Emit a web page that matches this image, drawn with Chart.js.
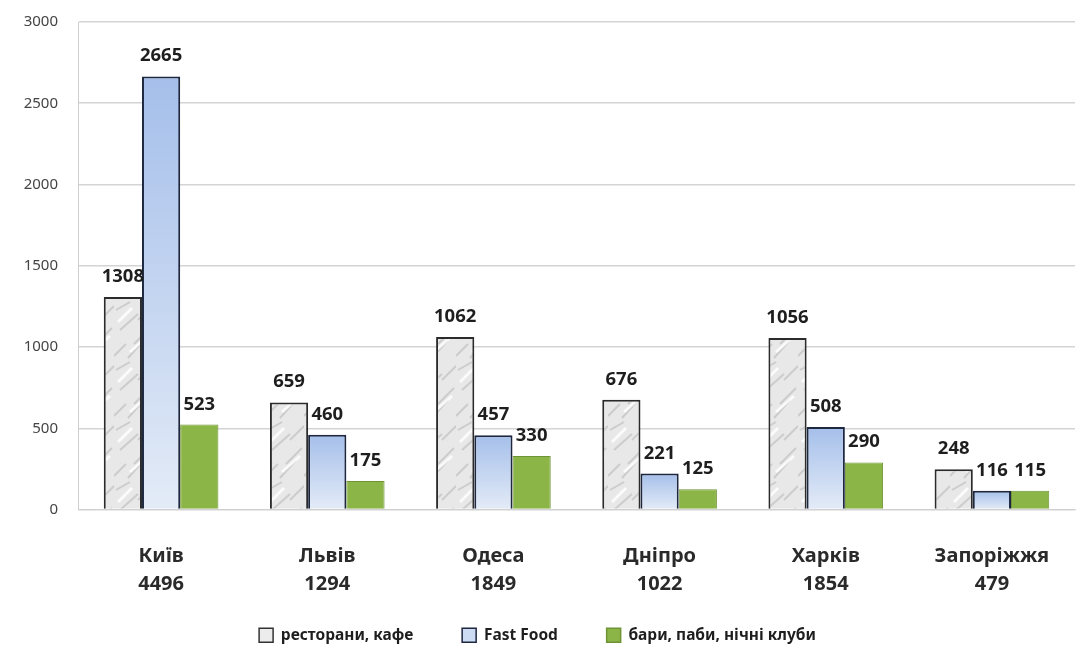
<!DOCTYPE html>
<html>
<head>
<meta charset="utf-8">
<script src="https://cdn.jsdelivr.net/npm/chart.js@4"></script>
<style>
  html, body { margin: 0; padding: 0; background: #fff; }
  #wrap { width: 1083px; height: 653px; }
</style>
</head>
<body>
<div id="wrap"><canvas id="chart" width="1083" height="653"></canvas></div>
<script>
var cities = ['Київ', 'Львів', 'Одеса', 'Дніпро', 'Харків', 'Запоріжжя'];
var totals = ['4496', '1294', '1849', '1022', '1854', '479'];
var restaurants = [1308, 659, 1062, 676, 1056, 248];
var fastFood = [2665, 460, 457, 221, 508, 116];
var bars = [523, 175, 330, 125, 290, 115];
var seriesNames = ['ресторани, кафе', 'Fast Food', 'бари, паби, нічні клуби'];
var yTicks = [0, 500, 1000, 1500, 2000, 2500, 3000];

var labels = [];
for (i = 0; i < cities.length; i++) {
  labels.push([cities[i], totals[i]]);
}

var FONT = '"Noto Sans", "DejaVu Sans", sans-serif';

// marble-like grey texture for the first series
function makeGreyPattern() {
  var p = document.createElement('canvas');
  p.width = 38; p.height = 60;
  var c = p.getContext('2d');
  c.fillStyle = '#e8e8e8';
  c.fillRect(0, 0, 38, 60);
  c.strokeStyle = 'rgba(170,170,170,0.45)';
  c.lineWidth = 2;
  var streaks = [[2, 10, 16, 2], [6, 30, 24, 14], [20, 44, 36, 28], [0, 56, 12, 44], [14, 58, 30, 40], [24, 20, 38, 6]];
  streaks.forEach(function(s) {
    c.beginPath(); c.moveTo(s[0], s[1]); c.lineTo(s[2], s[3]); c.stroke();
  });
  c.strokeStyle = 'rgba(255,255,255,0.8)';
  c.lineWidth = 3;
  [[4, 22, 18, 8], [16, 52, 34, 36]].forEach(function(s) {
    c.beginPath(); c.moveTo(s[0], s[1]); c.lineTo(s[2], s[3]); c.stroke();
  });
  return p;
}

var ctx = document.getElementById('chart').getContext('2d');
var greyPattern = ctx.createPattern(makeGreyPattern(), 'repeat');

// blue fill, darker at the top of each bar
function blueFill(context) {
  var chart = context.chart;
  if (!chart.chartArea || context.parsed === undefined) return '#bcd0f0';
  var y = chart.scales.y;
  var top = y.getPixelForValue(context.parsed.y);
  var base = y.getPixelForValue(0);
  var g = chart.ctx.createLinearGradient(0, top, 0, base);
  g.addColorStop(0, '#a5bfea');
  g.addColorStop(1, '#e3ebf7');
  return g;
}

var valueLabels = {
  id: 'valueLabels',
  afterDatasetsDraw: function(chart) {
    var c = chart.ctx;
    c.save();
    c.font = 'bold 18.5px ' + FONT;
    c.fillStyle = '#1e1e1e';
    c.textAlign = 'center';
    c.textBaseline = 'alphabetic';
    chart.data.datasets.forEach(function(ds, di) {
      var meta = chart.getDatasetMeta(di);
      meta.data.forEach(function(bar, i) {
        c.fillText(String(ds.data[i]), bar.x, bar.y - 15);
      });
    });
    c.restore();
  }
};

var outChart = new Chart(ctx, {
  type: 'bar',
  data: {
    labels: labels,
    datasets: [
      {
        label: seriesNames[0],
        data: restaurants,
        backgroundColor: greyPattern,
        borderColor: '#2b2b2b',
        borderWidth: 2,
        borderSkipped: 'bottom'
      },
      {
        label: seriesNames[1],
        data: fastFood,
        backgroundColor: blueFill,
        borderColor: '#1d2740',
        borderWidth: 2,
        borderSkipped: 'bottom'
      },
      {
        label: seriesNames[2],
        data: bars,
        backgroundColor: '#8cb547',
        borderColor: '#6f9435',
        borderWidth: 1,
        borderSkipped: 'bottom'
      }
    ]
  },
  options: {
    responsive: false,
    animation: false,
    devicePixelRatio: 1,
    layout: { padding: { left: 0, right: 8, top: 22, bottom: 0 } },
    datasets: {
      bar: { categoryPercentage: 0.69, barPercentage: 1.0 }
    },
    plugins: {
      tooltip: { enabled: false },
      legend: {
        position: 'bottom',
        labels: {
          color: '#1e1e1e',
          font: { family: FONT, size: 15.5, weight: 'bold' },
          boxWidth: 14,
          boxHeight: 14,
          padding: 10,
          generateLabels: function(chart) {
            var fills = ['#ececec', '#cddcf3', '#8cb547'];
            var strokes = ['#333', '#1d2740', '#6f9435'];
            return seriesNames.map(function(n, i) {
              return {
                text: i < 2 ? n + '\u2002\u2002\u2002\u2002\u2002' : n,
                fillStyle: fills[i],
                strokeStyle: strokes[i],
                lineWidth: 1.5,
                datasetIndex: i,
                fontColor: '#1e1e1e'
              };
            });
          }
        }
      }
    },
    scales: {
      x: {
        afterFit: function(axis) { axis.height = 108; },
        grid: { display: false, drawTicks: false },
        border: { display: true, color: '#d0d0d0', width: 1 },
        ticks: {
          color: '#2a2a2a',
          padding: 33,
          font: { family: FONT, size: 20, weight: 'bold', lineHeight: 1.4 },
          maxRotation: 0,
          autoSkip: false
        }
      },
      y: {
        min: 0,
        max: 3000,
        afterFit: function(axis) {
          axis.width = 78;
          axis.paddingTop = 0;
          axis.paddingBottom = 0;
        },
        afterBuildTicks: function(axis) {
          axis.ticks = yTicks.map(function(v) { return { value: v }; });
        },
        grid: { color: '#d4d4d4', drawTicks: false, lineWidth: 1.5 },
        border: { display: true, color: '#d0d0d0', width: 1 },
        ticks: {
          color: '#444',
          padding: 20,
          font: { family: FONT, size: 15 },
          callback: function(v) { return String(v); }
        }
      }
    }
  },
  plugins: [valueLabels]
});
</script>
</body>
</html>
